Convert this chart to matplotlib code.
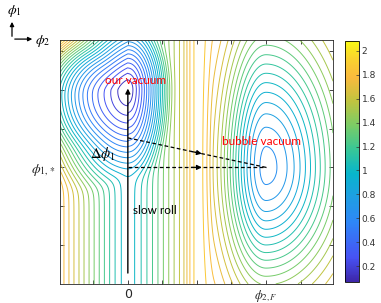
import numpy as np
import matplotlib
matplotlib.use("Agg")
import matplotlib.pyplot as plt
from matplotlib.colors import LinearSegmentedColormap, Normalize
from matplotlib.cm import ScalarMappable
from matplotlib.patches import FancyArrowPatch

plt.rcParams["mathtext.fontset"] = "stix"

# ------------------------------------------------------------
# parula-like colour map
# ------------------------------------------------------------
PARULA = [
    (0.00, (0.24, 0.15, 0.66)),
    (0.10, (0.28, 0.32, 0.96)),
    (0.25, (0.18, 0.53, 0.97)),
    (0.35, (0.12, 0.62, 0.89)),
    (0.45, (0.03, 0.71, 0.80)),
    (0.55, (0.22, 0.78, 0.59)),
    (0.65, (0.48, 0.80, 0.40)),
    (0.75, (0.75, 0.77, 0.25)),
    (0.85, (0.98, 0.73, 0.24)),
    (0.93, (0.98, 0.83, 0.18)),
    (1.00, (0.98, 0.98, 0.08)),
]
parula = LinearSegmentedColormap.from_list("parula", PARULA)

# ------------------------------------------------------------
# values
# ------------------------------------------------------------
X_LIM = [-1.97, 5.94]
Y_LIM = [0.0, 6.28]

OUR_VAC = [0.0, 5.0]        # (phi2, phi1) of our vacuum
BUBBLE_VAC = [4.0, 3.0]     # (phi2_F, phi1_*)
V_RANGE = [0.066, 2.084]    # colour bar limits
N_LEVELS = 27

V_OUR = 0.07
V_BUBBLE = 0.615
V_VALLEY = 0.965
V_RIDGE = 1.9

CORE_X = [0.34, 1.0]        # left, right
CORE_Y = [0.175, 0.35]      # down, up
CORE_UPLEFT = 0.3
CORE_POW = 0.7
TROUGH_Y0 = 4.85
TROUGH_X = 0.22
TROUGH_Q = [0.29, 0.49]     # down, up
VALLEY_SLOPE = [0.5, 0.47]  # left, right
BUB_SX = [1.2, 2.15]        # left, right
BUB_SY = [3.0, 3.64]        # down, up
RIDGE_LEFT = [1.55, 2.1]
RIDGE_RIGHT = [2.0, 2.5]

X_TICKS = [-1, 0, 1, 2, 3, 4, 5]
X_TICK_LABELS = ["", "0", "", "", "", r"$\phi_{2,F}$", ""]
Y_TICKS = [1, 2, 3, 4, 5, 6]
Y_TICK_LABELS = ["", "", r"$\phi_{1,*}$", "", "", ""]
CBAR_TICKS = [0.2, 0.4, 0.6, 0.8, 1.0, 1.2, 1.4, 1.6, 1.8, 2.0]
CBAR_LABELS = ["0.2", "0.4", "0.6", "0.8", "1", "1.2", "1.4", "1.6", "1.8", "2"]


def softmin(vals, t):
    v = np.stack(vals)
    m = v.min(axis=0)
    return m - t * np.log(np.exp(-(v - m) / t).sum(axis=0))


def taper(x, a, b):
    # 1 below a, 0 above b
    s = np.clip((x - a) / (b - a), 0, 1)
    return 0.5 * (1 + np.cos(np.pi * s))


# ------------------------------------------------------------
# potential
# ------------------------------------------------------------
x = np.linspace(X_LIM[0], X_LIM[1], 500)
y = np.linspace(Y_LIM[0], Y_LIM[1], 500)
X, Y = np.meshgrid(x, y)

dx = X - OUR_VAC[0]
dy = Y - OUR_VAC[1]
r2 = (np.where(dx < 0, CORE_X[0], CORE_X[1]) * dx ** 2
      + np.where(dy < 0, CORE_Y[0], CORE_Y[1]) * dy ** 2
      + CORE_UPLEFT * np.clip(-dx, 0, None) * np.clip(dy, 0, None))
core = V_OUR + r2 ** CORE_POW
trough = np.where(
    X < 0,
    0.2 + TROUGH_X * X ** 2
    + np.where(Y < TROUGH_Y0, TROUGH_Q[0], TROUGH_Q[1]) * (Y - TROUGH_Y0) ** 2,
    9.0)
valley = (V_VALLEY
          + np.where(X < 0, VALLEY_SLOPE[0], VALLEY_SLOPE[1]) * (np.sqrt(X ** 2 + 0.2 ** 2) - 0.2)
          + 0.3 * np.clip(-X, 0, None) * np.clip(Y - 4.8, 0, None))
left = softmin([core, trough, valley], 0.06)

bx = X - BUBBLE_VAC[0]
by = Y - BUBBLE_VAC[1]
sx = np.where(bx < 0, BUB_SX[0], BUB_SX[1])
sy = np.where(by < 0, BUB_SY[0], BUB_SY[1])
bubble = (V_RIDGE - V_BUBBLE) * np.exp(-(bx / sx) ** 2 - (by / sy) ** 2)

wl = taper(X, *RIDGE_LEFT)
wr = 1 - taper(X, *RIDGE_RIGHT)
V = V_RIDGE - (V_RIDGE - left) * wl - bubble * wr

# ------------------------------------------------------------
# figure
# ------------------------------------------------------------
fig = plt.figure(figsize=(3.81, 3.03), dpi=100)
ax = fig.add_axes([0.157, 0.063, 0.717, 0.805])

levels = np.linspace(V_RANGE[0], V_RANGE[1], N_LEVELS + 2)[1:-1]
norm = Normalize(V_RANGE[0], V_RANGE[1])
ax.contour(X, Y, V, levels=levels, cmap=parula, norm=norm, linewidths=0.7)

ax.set_xlim(X_LIM)
ax.set_ylim(Y_LIM)
ax.set_xticks(X_TICKS)
ax.set_xticklabels(X_TICK_LABELS, fontsize=9)
ax.set_yticks(Y_TICKS)
ax.set_yticklabels(Y_TICK_LABELS, fontsize=10)
ax.tick_params(direction="in", length=3, width=0.6, top=True, right=True,
               colors="0.15", pad=3)
for sp in ax.spines.values():
    sp.set_linewidth(0.6)
    sp.set_color("0.15")

# slow roll arrow
ax.annotate("", xy=(0, 5.03), xytext=(0, 0.28),
            arrowprops=dict(arrowstyle="-|>", color="black", lw=1.0,
                            mutation_scale=7, shrinkA=0, shrinkB=0))

# dashed tunnelling paths with arrow heads half way
starts = [[0, 3.76], [0, 3.0]]
for sx0, sy0 in starts:
    ex, ey = BUBBLE_VAC
    mx = 2.14
    my = sy0 + (ey - sy0) * mx / ex
    ax.plot([sx0, ex], [sy0, ey], color="black", ls=(0, (3, 2)), lw=0.9)
    ax.annotate("", xy=(mx, my), xytext=(mx - 0.3, sy0 + (ey - sy0) * (mx - 0.3) / ex),
                arrowprops=dict(arrowstyle="-|>", color="black", lw=0.9,
                                mutation_scale=7, shrinkA=0, shrinkB=0))

ax.text(0.23, 5.23, "our vacuum", color="red", fontsize=8.5, family="Lato",
        ha="center", va="center")
ax.text(3.86, 3.66, "bubble vacuum", color="red", fontsize=8.5, family="Lato",
        ha="center", va="center")
ax.text(0.15, 1.88, "slow roll", color="black", fontsize=8.5, family="Lato",
        ha="left", va="center")
ax.text(-0.72, 3.35, r"$\Delta\phi_1$", fontsize=10.5, ha="center", va="center")

# colour bar
cax = fig.add_axes([0.906, 0.069, 0.036, 0.796])
cb = fig.colorbar(ScalarMappable(norm=norm, cmap=parula), cax=cax)
cb.set_ticks(CBAR_TICKS)
cb.set_ticklabels(CBAR_LABELS)
cb.ax.tick_params(direction="in", length=2.5, width=0.5, labelsize=6.5,
                  colors="0.2", pad=2)
cb.outline.set_linewidth(0.6)

# field-direction axes in the top-left corner
fig.add_artist(FancyArrowPatch((0.0315, 0.871), (0.0315, 0.937),
                               transform=fig.transFigure, arrowstyle="-|>",
                               mutation_scale=6, lw=0.9, color="black"))
fig.add_artist(FancyArrowPatch((0.0315, 0.871), (0.092, 0.871),
                               transform=fig.transFigure, arrowstyle="-|>",
                               mutation_scale=6, lw=0.9, color="black"))
fig.text(0.037, 0.965, r"$\phi_1$", fontsize=10, ha="center", va="center")
fig.text(0.113, 0.866, r"$\phi_2$", fontsize=10, ha="center", va="center")

fig.savefig("out.png", dpi=100)
